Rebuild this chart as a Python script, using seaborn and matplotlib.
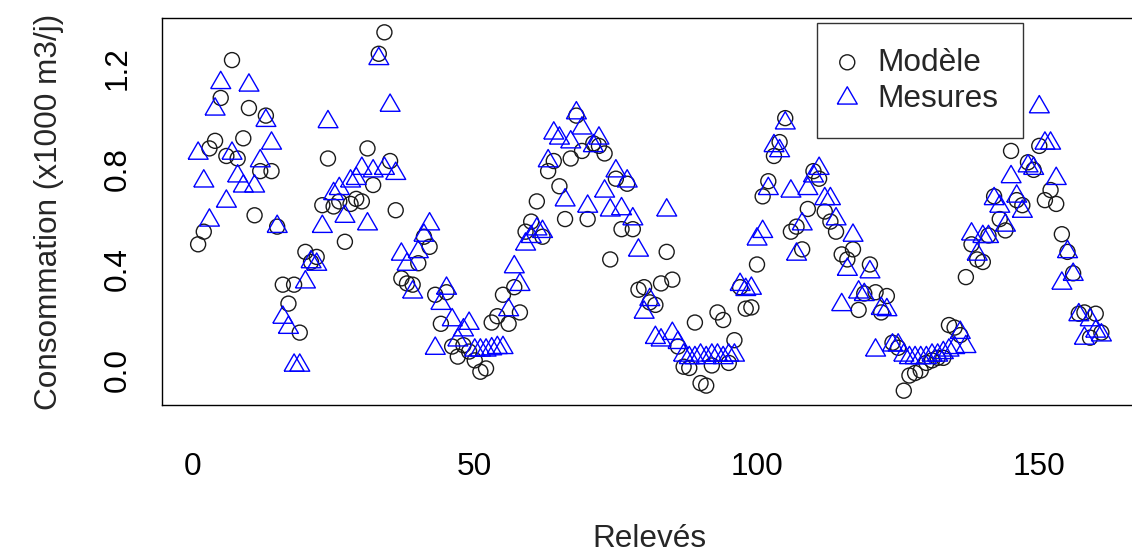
import matplotlib
matplotlib.use("Agg")
import numpy as np
import pandas as pd
import matplotlib.pyplot as plt
import seaborn as sns

# ---------------- data ----------------
modele = [
    0.50, 0.55, 0.88, 0.91, 1.08, 0.85, 1.23, 0.84, 0.92, 1.04,
    0.615, 0.79, 1.01, 0.79, 0.57, 0.34, 0.265, 0.34, 0.15, 0.47,
    0.43, 0.45, 0.655, 0.84, 0.65, 0.67, 0.51, 0.66, 0.68, 0.67,
    0.88, 0.735, 1.255, 1.34, 0.83, 0.635, 0.365, 0.345, 0.34, 0.425,
    0.53, 0.49, 0.30, 0.185, 0.31, 0.095, 0.055, 0.10, 0.075, 0.04,
    -0.005, 0.008, 0.19, 0.215, 0.30, 0.185, 0.33, 0.23, 0.55, 0.59,
    0.67, 0.53, 0.79, 0.83, 0.73, 0.60, 0.84, 1.01, 0.87, 0.60,
    0.90, 0.89, 0.86, 0.44, 0.76, 0.56, 0.74, 0.56, 0.32, 0.33,
    0.27, 0.26, 0.345, 0.47, 0.36, 0.095, 0.015, 0.01, 0.19, -0.05,
    -0.06, 0.02, 0.23, 0.20, 0.03, 0.12, 0.33, 0.245, 0.25, 0.42,
    0.69, 0.75, 0.85, 0.905, 1.00, 0.55, 0.57, 0.48, 0.64, 0.79,
    0.76, 0.63, 0.59, 0.55, 0.46, 0.44, 0.48, 0.24, 0.305, 0.42,
    0.31, 0.23, 0.295, 0.11, 0.09, -0.08, -0.02, -0.01, 0.00, 0.03,
    0.04, 0.05, 0.05, 0.18, 0.17, 0.14, 0.37, 0.50, 0.44, 0.43,
    0.535, 0.69, 0.60, 0.555, 0.87, 0.675, 0.655, 0.825, 0.795, 0.89,
    0.675, 0.715, 0.66, 0.54, 0.47, 0.385, 0.225, 0.23, 0.13, 0.225,
    0.15,
]
mesures = [
    0.86, 0.75, 0.595, 1.035, 1.14, 0.67, 0.86, 0.77, 0.73, 1.13,
    0.73, 0.83, 0.99, 0.90, 0.57, 0.21, 0.17, 0.02, 0.02, 0.35,
    0.43, 0.42, 0.57, 0.985, 0.70, 0.72, 0.61, 0.75, 0.76, 0.80,
    0.58, 0.79, 1.235, 0.80, 1.05, 0.78, 0.46, 0.42, 0.31, 0.47,
    0.535, 0.58, 0.087, 0.265, 0.325, 0.20, 0.12, 0.16, 0.186, 0.08,
    0.08, 0.08, 0.085, 0.09, 0.09, 0.24, 0.41, 0.34, 0.50, 0.53,
    0.56, 0.55, 0.83, 0.94, 0.92, 0.675, 0.905, 1.02, 0.96, 0.65,
    0.89, 0.92, 0.71, 0.635, 0.79, 0.64, 0.75, 0.60, 0.476, 0.23,
    0.28, 0.13, 0.12, 0.635, 0.146, 0.11, 0.06, 0.05, 0.05, 0.06,
    0.05, 0.06, 0.06, 0.05, 0.06, 0.06, 0.34, 0.32, 0.325, 0.52,
    0.55, 0.72, 0.89, 0.87, 0.98, 0.71, 0.46, 0.58, 0.72, 0.77,
    0.80, 0.68, 0.68, 0.60, 0.26, 0.40, 0.535, 0.31, 0.30, 0.39,
    0.08, 0.245, 0.24, 0.10, 0.10, 0.06, 0.05, 0.05, 0.05, 0.05,
    0.06, 0.06, 0.07, 0.08, 0.09, 0.15, 0.094, 0.54, 0.46, 0.53,
    0.53, 0.68, 0.65, 0.575, 0.767, 0.69, 0.63, 0.81, 0.80, 1.044,
    0.90, 0.90, 0.76, 0.345, 0.47, 0.38, 0.22, 0.127, 0.20, 0.155,
    0.14,
]
releves = list(range(1, len(modele) + 1))

series_labels = ["Modèle", "Mesures"]
xticks = [0, 50, 100, 150]
yticks = [0.0, 0.2, 0.4, 0.6, 0.8, 1.0, 1.2]
ytick_labels = ["0.0", "", "0.4", "", "0.8", "", "1.2"]
xlabel = "Relevés"
ylabel = "Consommation (x1000 m3/j)"

# ---------------- style ----------------
sns.set_style("white")
plt.rcParams["font.family"] = ["Liberation Sans", "DejaVu Sans"]
FS = 22.7

W, H = 1132, 555
fig = plt.figure(figsize=(W / 100, H / 100), dpi=100)
ax = fig.add_axes([162 / W, 150 / H, 975.5 / W, 387 / H])

df = pd.DataFrame({"releve": releves, "modele": modele, "mesures": mesures})

tri = [(-1.0, -0.57735), (1.0, -0.57735), (0.0, 1.1547), (-1.0, -0.57735)]

sns.scatterplot(data=df, x="releve", y="modele", marker="o", s=10.8 ** 2,
                facecolor="none", edgecolor="#1a1a1a", linewidth=1.0,
                ax=ax, label=series_labels[0])
ax.collections[-1].set_facecolor("none")
sns.scatterplot(data=df, x="releve", y="mesures", marker=tri, s=16.6 ** 2,
                facecolor="none", edgecolor="#0000FF", linewidth=1.0,
                ax=ax, label=series_labels[1])
ax.collections[-1].set_facecolor("none")

# R-like 4% axis extension
xmin, xmax = min(releves), max(releves)
xr = xmax - xmin
ax.set_xlim(xmin - 0.04 * xr, xmax + 0.04 * xr)
allv = modele + mesures
ymin, ymax = min(allv), max(allv)
yr = ymax - ymin
ax.set_ylim(ymin - 0.04 * yr, ymax + 0.04 * yr)

ax.set_xticks(xticks)
ax.set_xticklabels([str(t) for t in xticks])
ax.set_yticks(yticks)
ax.set_yticklabels(ytick_labels)

for sp in ax.spines.values():
    sp.set_visible(True)
    sp.set_color("black")
    sp.set_linewidth(1.0)

ax.tick_params(axis="both", direction="out", length=14, width=1.0,
               color="#333333", labelsize=FS, labelcolor="black")
ax.tick_params(axis="x", pad=20)
ax.tick_params(axis="y", pad=17.7)
plt.setp(ax.get_yticklabels(), rotation=90, va="center", ha="center")

ax.set_xlabel(xlabel, fontsize=FS, labelpad=30)
ax.set_ylabel(ylabel, fontsize=FS, labelpad=28)

leg = ax.legend(loc="upper left",
                bbox_to_anchor=((817 - 162) / 975.5, 1.0 - 5 / 387),
                fontsize=FS, frameon=True, fancybox=False, edgecolor="#333333",
                framealpha=1, facecolor="white", borderpad=0.78,
                labelspacing=0.19, handlelength=0.36, handletextpad=0.78,
                borderaxespad=0, scatterpoints=1)
leg.get_frame().set_linewidth(1.0)

fig.savefig("out.png", dpi=100)
